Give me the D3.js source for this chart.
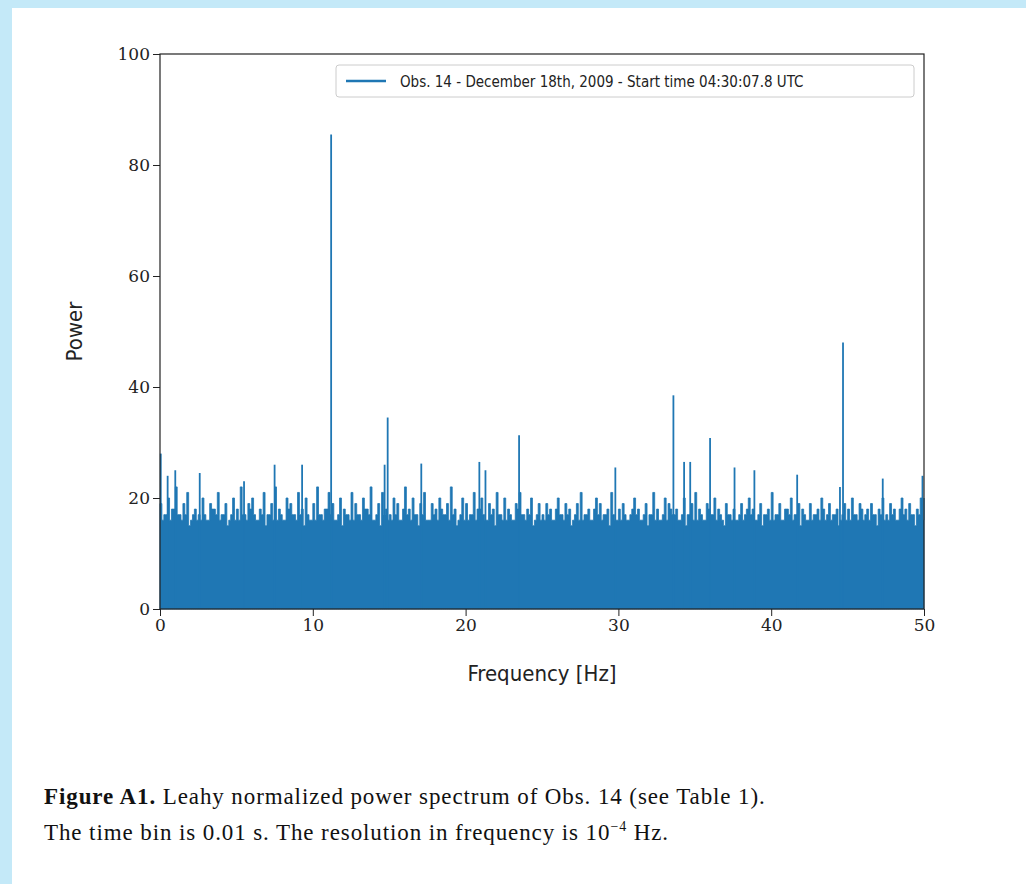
<!DOCTYPE html>
<html lang="en">
<head>
<meta charset="UTF-8">
<script src="https://d3js.org/d3.v7.min.js"></script>
<style>
  body { margin: 0; background: #c4e9f8; }
  #page { position: absolute; left: 12px; top: 8px; width: 1014px; height: 876px; background: #fff; }
  .axis text { font: 17px "DejaVu Serif", serif; fill: #222; }
  .axis path, .axis line { stroke: #222; }
  .cap { position: absolute; left: 44px; top: 782px; font: 23px "Liberation Serif", serif; letter-spacing: 0.9px; color: #111; line-height: 30px; }
</style>
</head>
<body>
<div id="page"></div>
<div class="cap"><b>Figure A1.</b> Leahy normalized power spectrum of Obs. 14 (see Table 1).<br>The time bin is 0.01 s. The resolution in frequency is 10<sup style="font-size:14px">−4</sup> Hz.</div>
<script>
// noise envelope, one value per 0.25 Hz bin (0 .. 49.75 Hz)
var noise = [
  19,17,20,18,22,17,19,21,16,18, 17,20,16,19,18,21,17,19,16,20,
  18,22,17,19,20,16,18,21,17,19, 22,18,16,20,19,17,21,18,20,16,
  19,22,17,18,21,19,16,20,18,17, 21,19,17,20,18,22,16,19,21,18,
  17,20,19,16,22,18,20,17,19,21, 16,19,18,20,17,19,22,18,16,20,
  19,17,21,18,20,16,19,18,21,17, 20,18,16,19,21,17,18,20,16,19,
  17,19,18,16,20,17,19,18,16,19, 21,17,18,16,20,19,17,18,21,16,
  18,19,16,17,20,18,16,19,17,21, 18,16,20,19,17,18,16,20,17,19,
  21,18,16,19,17,20,18,16,19,17, 18,16,19,17,20,18,16,19,17,18,
  21,17,19,16,18,20,17,19,18,16, 19,17,18,20,16,19,17,18,16,19,
  18,20,17,19,16,18,19,17,18,20, 17,19,18,16,20,18,19,17,18,20
];
var lows = [16,17,16,18,17,16,17,15,17,16];
var binWidth = 0.25;

// prominent peaks [frequency Hz, power]
var peakFreq  = [0.05, 0.5, 1.0, 2.6, 5.5, 7.5, 9.3, 11.2, 14.7, 14.9, 17.1, 20.9, 21.3, 23.5, 29.8, 33.6, 34.3, 34.7, 36.0, 37.6, 38.9, 41.7, 44.5, 44.7, 47.3, 49.9];
var peakPower = [28, 24, 25, 24.5, 23, 26, 26, 85.5, 26, 34.5, 26.2, 26.5, 25, 31.3, 25.5, 38.5, 26.5, 26.5, 30.8, 25.5, 25, 24.2, 22, 48, 23.5, 24];

var xTicks = [0, 10, 20, 30, 40, 50];
var yTicks = [0, 20, 40, 60, 80, 100];
var legendLabel = "Obs. 14 - December 18th, 2009 - Start time 04:30:07.8 UTC";

var color = "#1f77b4";
var svg = d3.select("#page").append("svg").attr("width", 1014).attr("height", 780);
var m = {left: 148, top: 46, right: 912, bottom: 601};
var x = d3.scaleLinear().domain([0, 50]).range([m.left, m.right]);
var y = d3.scaleLinear().domain([0, 100]).range([m.bottom, m.top]);

// build step series: each bin has a high then a low sample
var pts = [];
noise.forEach(function(v, i) {
  var f = i * binWidth;
  pts.push([f, v]);
  pts.push([f + binWidth * 0.5, lows[i % lows.length]]);
});
pts.push([50, noise[noise.length - 1]]);

svg.append("path")
  .datum(pts)
  .attr("fill", color)
  .attr("stroke", color)
  .attr("stroke-width", 0.8)
  .attr("d", d3.area().curve(d3.curveStepAfter)
    .x(function(d) { return x(d[0]); })
    .y0(y(0))
    .y1(function(d) { return y(d[1]); }));

svg.selectAll(".peak").data(peakFreq).enter().append("line")
  .attr("class", "peak")
  .attr("x1", function(d) { return x(d); })
  .attr("x2", function(d) { return x(d); })
  .attr("y1", y(0))
  .attr("y2", function(d, i) { return y(peakPower[i]); })
  .attr("stroke", color)
  .attr("stroke-width", 1.8);

// frame
svg.append("rect").attr("x", m.left).attr("y", m.top)
  .attr("width", m.right - m.left).attr("height", m.bottom - m.top)
  .attr("fill", "none").attr("stroke", "#222").attr("stroke-width", 1.2);

svg.append("g").attr("class", "axis")
  .attr("transform", "translate(0," + m.bottom + ")")
  .call(d3.axisBottom(x).tickValues(xTicks).tickSize(7).tickPadding(3));
svg.append("g").attr("class", "axis")
  .attr("transform", "translate(" + m.left + ",0)")
  .call(d3.axisLeft(y).tickValues(yTicks).tickSize(7).tickPadding(3));
svg.selectAll(".axis .domain").remove();

svg.append("text").attr("x", (m.left + m.right) / 2).attr("y", 673)
  .attr("text-anchor", "middle").style("font", "22px 'DejaVu Sans Condensed', sans-serif").style("fill", "#222")
  .text("Frequency [Hz]");
svg.append("text").attr("transform", "translate(70," + ((m.top + m.bottom) / 2) + ") rotate(-90)")
  .attr("text-anchor", "middle").style("font", "22px 'DejaVu Sans Condensed', sans-serif").style("fill", "#222")
  .text("Power");

// legend
var lg = svg.append("g").attr("transform", "translate(324,57)");
lg.append("rect").attr("width", 578).attr("height", 32).attr("rx", 3)
  .attr("fill", "#fff").attr("stroke", "#ccc");
lg.append("line").attr("x1", 10).attr("x2", 50).attr("y1", 16).attr("y2", 16)
  .attr("stroke", color).attr("stroke-width", 2.5);
lg.append("text").attr("x", 64).attr("y", 22)
  .style("font", "15px 'DejaVu Sans Condensed', sans-serif").style("fill", "#222")
  .text(legendLabel);
</script>
</body>
</html>
